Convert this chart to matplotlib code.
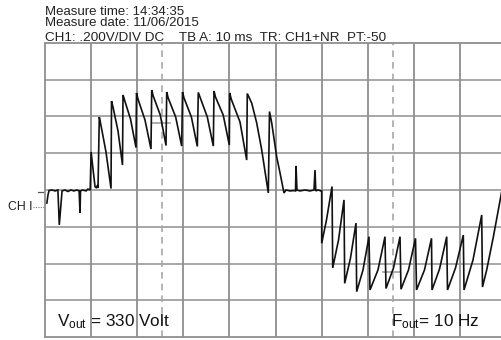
import matplotlib
matplotlib.use("Agg")
import matplotlib.pyplot as plt

plt.rcParams['font.family'] = ['Liberation Sans', 'DejaVu Sans']
plt.rcParams['mathtext.fontset'] = 'custom'
plt.rcParams['mathtext.rm'] = 'Liberation Sans'
plt.rcParams['mathtext.it'] = 'Liberation Sans'

# ---------------- data ----------------
header_lines = ["Measure time: 14:34:35", "Measure date: 11/06/2015"]
settings_line = "CH1: .200V/DIV DC    TB A: 10 ms  TR: CH1+NR  PT:-50"
v_label = "V$_{\\rm out}$ = 330 Volt"
f_label = "F$_{\\rm out}$= 10 Hz"
channel_label = "CH I"

time_div_ms = 10.0
volt_div = 0.2
n_xdiv = 10
n_ydiv = 8
cursor_t = [25.4, 75.4]
marker1_t = [23.2, 27.1]
marker1_v = [0.365, 0.365]
marker2_t = [73.3, 77.0]
marker2_v = [-0.446, -0.446]

# trace (time in ms, voltage in V)
t_ms = [
    0.4, 0.65, 0.87, 1.5, 2.2, 2.8, 3.1, 3.7, 4.3, 5.0, 5.6, 6.3, 6.9, 7.4, 7.6, 7.7,
    8.2, 8.9, 9.3, 9.8, 10.0, 10.5, 10.85, 11.2, 11.4, 11.5,
    11.78, 12.04, 13.23, 14.32,
    14.43, 14.75, 15.84, 16.81,
    16.92, 17.25, 18.55, 19.74,
    19.85, 20.17, 21.69, 22.99,
    23.15, 23.47, 25.01, 26.25,
    26.40, 26.72, 28.35, 29.65,
    29.83, 30.15, 31.76, 33.04,
    33.25, 33.62, 35.21, 36.51,
    36.66, 36.98, 38.66, 39.98,
    40.07, 40.39, 42.30, 43.75,
    43.88, 44.84, 45.92, 47.01, 48.44,
    48.70, 49.18, 50.26, 50.98, 51.84,
    52.28, 53.15, 54.01, 54.34, 54.45, 54.66, 55.31, 56.40, 57.48, 58.35, 58.57,
    58.74, 59.22, 59.87, 60.02,
    60.02, 61.06, 62.26,
    62.41, 63.67, 64.86,
    65.01, 66.27, 67.46,
    67.61, 68.98, 70.28,
    70.50, 72.23, 73.75,
    73.97, 75.60, 77.01,
    77.22, 78.85, 80.37,
    80.59, 82.32, 83.84,
    83.95, 85.58, 87.14,
    87.31, 89.05, 90.74,
    90.89, 92.84, 94.73,
    94.90, 95.81, 97.25, 98.33, 99.13, 100.0,
]
v_volt = [
    -0.071, -0.027, -0.003, 0.0, -0.005, 0.0, -0.190, -0.005, 0.0, -0.008, 0.0, -0.005, 0.0, -0.005, -0.125, -0.005,
    0.0, -0.005, 0.005, 0.0, 0.207, 0.093, 0.018, 0.011, 0.027, 0.011,
    0.397, 0.365, 0.207, 0.008,
    0.484, 0.452, 0.321, 0.136,
    0.517, 0.490, 0.386, 0.231,
    0.528, 0.495, 0.381, 0.223,
    0.544, 0.512, 0.408, 0.242,
    0.533, 0.501, 0.397, 0.239,
    0.533, 0.501, 0.397, 0.237,
    0.531, 0.506, 0.397, 0.239,
    0.539, 0.506, 0.408, 0.245,
    0.528, 0.495, 0.370, 0.163,
    0.525, 0.473, 0.365, 0.218, -0.016,
    0.427, 0.365, 0.180, 0.093, -0.016,
    0.0, -0.005, -0.003, -0.005, 0.131, 0.0, -0.005, 0.0, -0.005, 0.0, 0.109,
    -0.005, 0.0, -0.005, -0.005,
    -0.290, -0.163, 0.019,
    -0.424, -0.272, -0.054,
    -0.508, -0.370, -0.180,
    -0.553, -0.435, -0.254,
    -0.544, -0.435, -0.254,
    -0.536, -0.424, -0.254,
    -0.540, -0.435, -0.263,
    -0.544, -0.435, -0.263,
    -0.544, -0.430, -0.254,
    -0.544, -0.424, -0.245,
    -0.544, -0.381, -0.136,
    -0.528, -0.435, -0.256, -0.109, 0.0, 0.098,
]

# ---------------- figure ----------------
W, H = 502, 340
fig = plt.figure(figsize=(W / 100, H / 100), dpi=100)
fig.patch.set_facecolor('white')

ax = fig.add_axes([45 / W, 3 / H, 461 / W, 294 / H])
ax.set_xlim(0, n_xdiv * time_div_ms)
ax.set_ylim(-n_ydiv / 2 * volt_div, n_ydiv / 2 * volt_div)

grid_col = '#8f8f8f'
for i in range(1, n_xdiv):
    ax.axvline(i * time_div_ms, color=grid_col, lw=1.3, zorder=1)
for j in range(1, n_ydiv):
    ax.axhline(-n_ydiv / 2 * volt_div + j * volt_div, color=grid_col, lw=1.1, zorder=1)
for s in ax.spines.values():
    s.set_color(grid_col)
    s.set_linewidth(1.3)
ax.set_xticks([])
ax.set_yticks([])

for ct in cursor_t:
    ax.axvline(ct, color='#a8a8a8', lw=1.2, ls=(0, (4, 3)), zorder=1)
ax.plot(marker1_t, marker1_v, color='#a0a0a0', lw=1.2, zorder=1)
ax.plot(marker2_t, marker2_v, color='#a0a0a0', lw=1.2, zorder=1)

ax.plot(t_ms, v_volt, color='#111111', lw=1.2, zorder=3, solid_joinstyle='miter')

# left markers
ax.plot([-1.5, -0.4], [-0.01, -0.01], color='#555555', lw=0.9, clip_on=False)
ax.plot([-2.6, 0], [-0.092, -0.092], color='#777777', lw=0.8, ls=(0, (1, 1.2)), clip_on=False)
ax.text(-2.8, -0.092, channel_label, ha='right', va='center', fontsize=8.8, color='#222222')

# annotations
ax.text(2.5, -0.744, v_label, fontsize=12.3, color='#111111', va='baseline', ha='left')
ax.text(75.0, -0.744, f_label, fontsize=12.3, color='#111111', va='baseline', ha='left')

# header
fig.text(45 / W, 1 - 26 / H, "\n".join(header_lines), fontsize=9.5, color='#222222',
         va='baseline', linespacing=0.86)
fig.text(45 / W, 1 - 41 / H, settings_line, fontsize=9.7, color='#222222', va='baseline')

fig.savefig('out.png', dpi=100)
